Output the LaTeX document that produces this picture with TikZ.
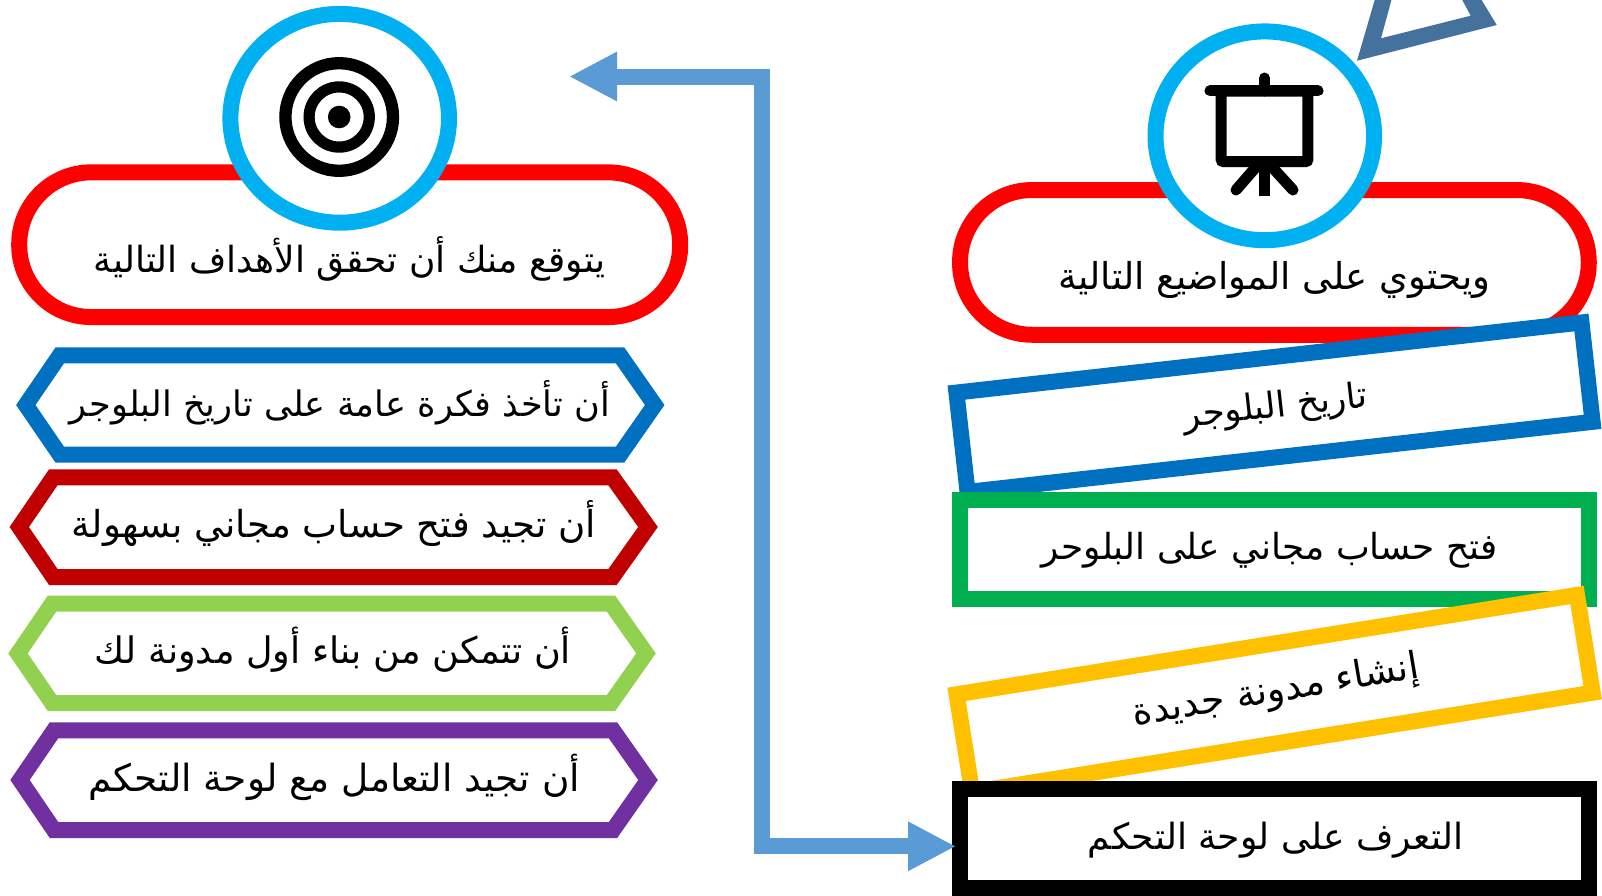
\documentclass[tikz,border=0pt]{standalone}
\usepackage{fontspec}
\usepackage{graphicx}
\usetikzlibrary{shapes.geometric,arrows.meta}
\TeXXeTstate=1
\newfontfamily\arabicfont[Script=Arabic]{DejaVu Sans}
\newcommand{\artext}[2]{\resizebox{#1pt}{!}{\fontsize{24}{28}\arabicfont #2}}
\definecolor{cred}{HTML}{FF0000}
\definecolor{ccyan}{HTML}{00B0F0}
\definecolor{cblue}{HTML}{0070C0}
\definecolor{cdark}{HTML}{C00000}
\definecolor{clime}{HTML}{92D050}
\definecolor{cpurple}{HTML}{7030A0}
\definecolor{cgreen}{HTML}{00B050}
\definecolor{cyellow}{HTML}{FFC000}
\definecolor{csteel}{HTML}{44729D}
\definecolor{carrow}{HTML}{5B9BD5}
\tikzset{
  boxed/.style={draw=#1,fill=white,line width=16pt,rectangle,miter limit=10,inner sep=0pt,minimum width=629pt,minimum height=100pt},
  pill/.style={draw=cred,fill=white,line width=16pt,rectangle,rounded corners=72pt,inner sep=0pt,minimum width=630pt,minimum height=144.7pt},
  ring/.style={draw=ccyan,fill=white,line width=16pt,ellipse,inner sep=0pt,minimum width=218.6pt,minimum height=208.8pt},
  hex/.style={draw=#1,fill=white,line width=16pt,miter limit=10},
  label/.style={inner sep=0pt,text=black},
  iconline/.style={draw=black,line cap=round,line width=11pt},
  link/.style={draw=carrow,line width=16pt,{Triangle[length=48pt,width=46pt]}-{Triangle[length=48pt,width=46pt]}}
}
\begin{document}
\begin{tikzpicture}[x=1pt,y=-1pt]
\clip (0,0) rectangle (1602,895);
\fill[white] (0,0) rectangle (1602,895);
% triangle fragment
\fill[csteel,even odd rule] (1357,60.7)--(1375,-1)--(1481,-1)--(1496.7,25)--cycle
  (1381,38.3)--(1391.7,-1)--(1461.7,-1)--(1470.7,15.7)--cycle;
% left column
\node[pill,minimum width=661pt] (goalpill) at (349.7,244.7) {};
\node[ring] (goalring) at (339.7,118.3) {};
\draw[black,line width=12.3pt] (339.2,117) circle[radius=53.8pt];
\draw[black,line width=11.2pt] (339.2,117) circle[radius=30.1pt];
\fill[black] (339.2,117) circle[radius=11.3pt];
\node[label] (goaltitle) at (349.5,259) {\artext{511}{\beginR يتوقع منك أن تحقق الأهداف التالية\endR}};
\draw[hex=cblue] (25.8,405)--(59.8,355.3)--(620,355.3)--(654.7,405)--(620,454.7)--(59.8,454.7)--cycle;
\node[label] (goalA) at (340,403) {\artext{540}{\beginR أن تأخذ فكرة عامة على تاريخ البلوجر\endR}};
\draw[hex=cdark] (19.3,527)--(53.3,477.3)--(612.5,477.3)--(648,527)--(612.5,577)--(53.3,577)--cycle;
\node[label] (goalB) at (334,523) {\artext{524}{\beginR أن تجيد فتح حساب مجاني بسهولة\endR}};
\draw[hex=clime] (18,653.4)--(52,603.6)--(611,603.6)--(646,653.4)--(611,703)--(52,703)--cycle;
\node[label] (goalC) at (333,650) {\artext{476}{\beginR أن تتمكن من بناء أول مدونة لك\endR}};
\draw[hex=cpurple] (20,780)--(54,730.3)--(613,730.3)--(648,780)--(613,830)--(54,830)--cycle;
\node[label] (goalD) at (334.5,777) {\artext{491}{\beginR أن تجيد التعامل مع لوحة التحكم\endR}};
% right column
\node[pill,minimum width=628.7pt] (topicpill) at (1274.4,262.4) {};
\node[ring] (topicring) at (1264.8,135.8) {};
\draw[iconline] (1210,90.8)--(1318,90.8);
\draw[iconline] (1264.4,78)--(1264.4,91);
\draw[draw=black,line width=11pt,rounded corners=2pt] (1221.2,91) rectangle (1307.8,161.5);
\begin{scope}
\clip (1190,160) rectangle (1340,195.7);
\draw[iconline] (1264.4,165)--(1264.4,200);
\draw[iconline] (1256,167)--(1236,190);
\draw[iconline] (1272,167)--(1293,190);
\end{scope}
\node[label] (topictitle) at (1274.5,280) {\artext{432}{\beginR ويحتوي على المواضيع التالية\endR}};
\node[boxed=cblue,rotate=6.4] (topicA) at (1274.5,407.2) {};
\node[label,rotate=6.4] (topicAtext) at (1275.5,408) {\artext{185}{\beginR تاريخ البلوجر\endR}};
\node[boxed=cgreen,minimum width=629.8pt,minimum height=99.4pt] (topicB) at (1274.5,549.2) {};
\node[label] (topicBtext) at (1269.5,550) {\artext{456}{\beginR فتح حساب مجاني على البلوحر\endR}};
\node[boxed=cyellow,rotate=9.1,minimum width=628.4pt,minimum height=99pt] (topicC) at (1274.6,693.5) {};
\node[label,rotate=9.5] (topicCtext) at (1276,692) {\artext{290}{\beginR إنشاء مدونة جديدة\endR}};
\node[boxed=black,minimum width=628.8pt,minimum height=99.3pt] (topicD) at (1274.6,838.35) {};
\node[label] (topicDtext) at (1275.5,840) {\artext{375}{\beginR التعرف على لوحة التحكم\endR}};
% connector
\coordinate (arrowtop) at (569,76.5);
\coordinate (arrowend) at (956,846.3);
\draw[link] (arrowtop) -| (762,846.3) -- (arrowend);
\end{tikzpicture}
\end{document}
